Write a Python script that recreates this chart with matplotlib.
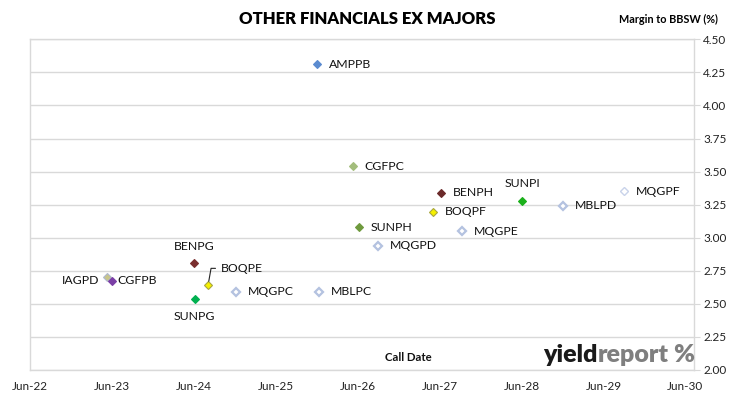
import pandas as pd
import matplotlib
matplotlib.use("Agg")
import matplotlib.pyplot as plt
import matplotlib.dates as mdates

plt.rcParams['font.family'] = ['Lato', 'DejaVu Sans']

# hybrid securities: call date and margin to BBSW (%)
names = ["AMPPB", "CGFPC", "BENPH", "SUNPI", "BOQPF", "MBLPD", "MQGPF", "SUNPH",
         "MQGPE", "MQGPD", "BENPG", "IAGPD", "CGFPB", "BOQPE", "SUNPG", "MQGPC", "MBLPC"]
call_dates = ["2025-12-01", "2026-05-10", "2027-06-08", "2028-06-03", "2027-05-01",
              "2028-12-01", "2029-09-01", "2026-06-07", "2027-09-08", "2026-09-01",
              "2024-06-01", "2023-05-10", "2023-06-01", "2024-08-03", "2024-06-05",
              "2024-12-07", "2025-12-12"]
margins = [4.31, 3.54, 3.34, 3.28, 3.195, 3.24, 3.35, 3.08,
           3.05, 2.94, 2.81, 2.70, 2.67, 2.64, 2.54, 2.59, 2.59]

y_ticks = [2.00, 2.25, 2.50, 2.75, 3.00, 3.25, 3.50, 3.75, 4.00, 4.25, 4.50]

# marker styles: (face, edge)
hollow = ("white", "#B4C2E0")
styles = {
    "AMPPB": ("#5B8BD0", "#5B8BD0"),
    "CGFPC": ("#A3BD7C", "#A3BD7C"),
    "BENPH": ("#6B2A2A", "#6B2A2A"),
    "SUNPI": ("#1BB01B", "#1BB01B"),
    "BOQPF": ("#F5F000", "#A8A640"),
    "MBLPD": hollow,
    "MQGPF": ("white", "#C9D3EA"),
    "SUNPH": ("#6F9A3E", "#6F9A3E"),
    "MQGPE": hollow,
    "MQGPD": hollow,
    "BENPG": ("#7A2E2E", "#7A2E2E"),
    "IAGPD": ("#C8C58A", "#AFB8CF"),
    "CGFPB": ("#7B3FA6", "#7B3FA6"),
    "BOQPE": ("#F5F000", "#A8A640"),
    "SUNPG": ("#00B050", "#00B050"),
    "MQGPC": hollow,
    "MBLPC": hollow,
}

# label placement in pixels (dx, dy, ha)
offsets = {
    "SUNPI": (0, 17, "center"),
    "BENPG": (0, 16, "center"),
    "SUNPG": (0, -18, "center"),
    "IAGPD": (-8, -3, "right"),
    "CGFPB": (6, 1, "left"),
}

fig = plt.figure(figsize=(7.30, 3.99), dpi=100)
ax = fig.add_axes([30 / 730, 1 - 370 / 399, (694 - 30) / 730, (370 - 39.3) / 399])

dates = pd.to_datetime(call_dates)
for name, d, m in zip(names, dates, margins):
    fc, ec = styles[name]
    if fc == "white":
        ms, mew = 4.3, 1.6
    else:
        ms, mew = 4.0, 0.8
    if name == "MQGPF":
        mew = 1.0
    ax.plot([d], [m], linestyle="none", marker="D", ms=ms, mfc=fc, mec=ec, mew=mew, zorder=3)
    if name == "BOQPE":
        ax.annotate(name, (d, m), xytext=(13, 17), textcoords="offset pixels",
                    ha="left", va="center", fontsize=8.8, color="#111111",
                    arrowprops=dict(arrowstyle="-", color="#222222", lw=0.8,
                                    connectionstyle="angle,angleA=0,angleB=80,rad=0",
                                    shrinkA=2, shrinkB=3))
        continue
    dx, dy, ha = offsets.get(name, (12, 0, "left"))
    ax.annotate(name, (d, m), xytext=(dx, dy), textcoords="offset pixels",
                ha=ha, va="center", fontsize=8.8, color="#111111")

ax.set_xlim(pd.Timestamp("2022-06-01"), pd.Timestamp("2030-07-10"))
ax.set_ylim(2.0, 4.5)
ax.set_yticks(y_ticks)
ax.set_yticklabels([f"{v:.2f}" for v in y_ticks])
ax.xaxis.set_major_locator(mdates.MonthLocator(bymonth=6))
ax.xaxis.set_major_formatter(mdates.DateFormatter("%b-%y"))

ax.yaxis.tick_right()
ax.tick_params(axis="y", length=4.5, color="#D9D9D9", labelsize=8.5, labelcolor="#222222", pad=2)
ax.tick_params(axis="x", length=0, labelsize=8.5, labelcolor="#222222", pad=8)
ax.grid(axis="y", color="#D9D9D9", lw=1)
ax.set_axisbelow(True)
for s in ax.spines.values():
    s.set_color("#D9D9D9")
    s.set_linewidth(1)

ax.text(0.57, 0.02, "Call Date", transform=ax.transAxes, ha="center", va="bottom",
        fontsize=8.2, fontweight="bold", color="#111111")

fig.text(367 / 730, 1 - 19 / 399, "OTHER FINANCIALS EX MAJORS", ha="center", va="center",
         fontsize=12, fontweight="heavy", color="black")
fig.text(668 / 730, 1 - 19 / 399, "Margin to BBSW (%)", ha="center", va="center",
         fontsize=7.8, fontweight="bold", color="black")

# logo
t1 = fig.text(543 / 730, 1 - 362 / 399, "yield", ha="left", va="baseline",
              fontsize=18, fontweight="heavy", color="#1A1A1A")
t2 = ax.annotate("report", xy=(1, 0), xycoords=t1, ha="left", va="bottom",
                 fontsize=18, fontweight="heavy", color="#7F7F7F")
ax.annotate("%", xy=(1, 0), xycoords=t2, xytext=(5, 0), textcoords="offset pixels",
            ha="left", va="bottom", fontsize=18, fontweight="heavy", color="#7F7F7F")

fig.savefig("out.png", dpi=100)
